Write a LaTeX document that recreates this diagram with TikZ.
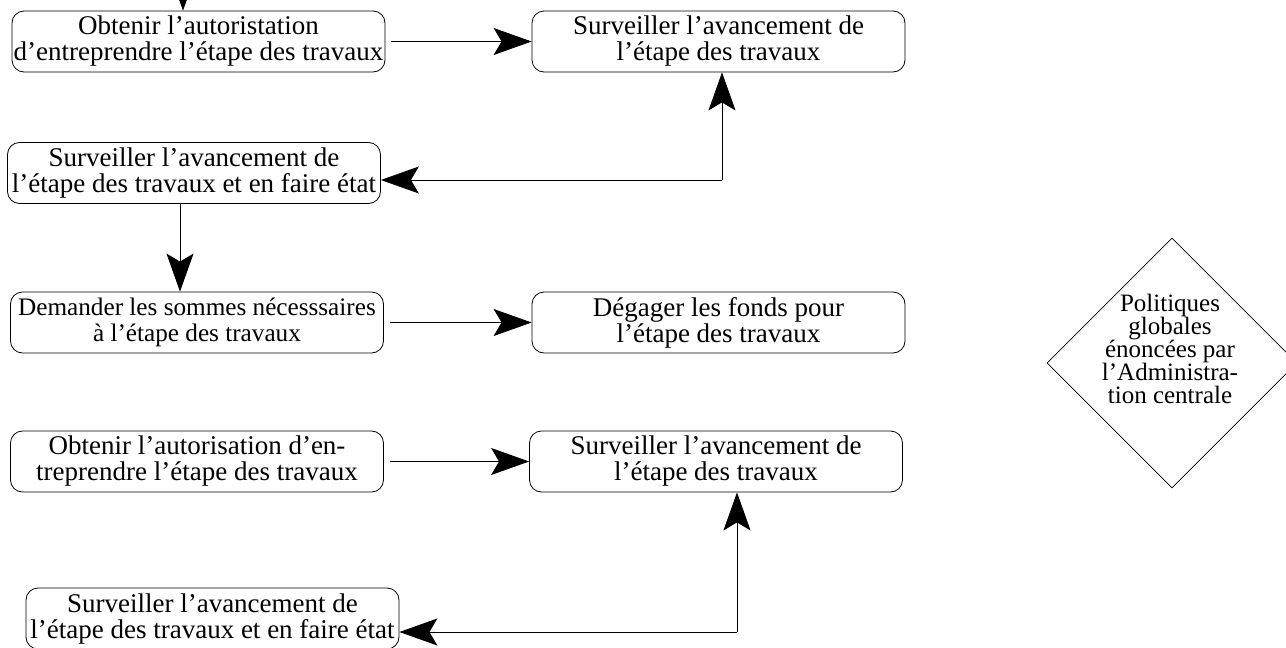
\documentclass[tikz,border=0pt]{standalone}
\usepackage{fontspec}
\setmainfont{Liberation Serif}
\usetikzlibrary{arrows.meta,shapes.geometric}

\begin{document}
\begin{tikzpicture}[x=1pt, y=1pt,
draw=black, line width=0.8pt]
    \tikzstyle{etape}=[draw, rounded corners=12pt, minimum width=373pt, minimum height=61pt, inner sep=0pt, align=center, font=\fontsize{27}{26}\selectfont]
    \tikzstyle{fl}=[-{Stealth[length=38pt,width=27pt,inset=8pt]}]
    \tikzstyle{losange}=[draw, diamond, minimum width=250pt, minimum height=250pt, inner sep=0pt]

\useasboundingbox (0,0) rectangle (1286,-648);

\node[etape] (a) at (198.5,-41.5) {Obtenir l’autoristation\\d’entreprendre l’étape des travaux};
\node[etape] (b) at (718.5,-41.5) {Surveiller l’avancement de\\l’étape des travaux};
\node[etape] (c) at (194,-173) {Surveiller l’avancement de\\l’étape des travaux et en faire état};
\node[etape, font=\fontsize{25.2}{26}\selectfont] (d) at (197,-322.5) {Demander les sommes nécesssaires\\à l’étape des travaux};
\node[etape] (e) at (718.5,-322.5) {Dégager les fonds pour\\l’étape des travaux};
\node[etape] (f) at (197,-461.5) {Obtenir l’autorisation d’en-\\treprendre l’étape des travaux};
\node[etape] (g) at (716,-461.5) {Surveiller l’avancement de\\l’étape des travaux};
\node[etape] (h) at (212.5,-618.5) {Surveiller l’avancement de\\l’étape des travaux et en faire état};

% losange a droite
\node[losange] (p) at (1172,-363) {};
\node[font=\fontsize{25}{23}\selectfont, align=center, inner sep=0pt] (pt) at (1170,-349) {Politiques\\globales\\énoncées par\\l’Administra-\\tion centrale};

\coordinate (h0) at (183,40);
\coordinate (c1) at (722,-180);
\coordinate (k) at (180,-250);
\coordinate (c2) at (737,-632);

\draw[fl] (h0) -- (h0 |- a.north);
\foreach \g/\d in {a/b,d/e,f/g}{
\draw[fl] ([xshift=6pt]\g.east) -- (\d.west);
};
\draw[fl] (c1) -- (c1 |- b.south);
\draw[fl] (c1) -- (c1 -| c.east);
\draw[fl] (k |- c.south) -- (k |- d.north);
\draw[fl] (c2) -- (c2 |- g.south);
\draw[fl] (c2) -- (c2 -| h.east);
\end{tikzpicture}
\end{document}
